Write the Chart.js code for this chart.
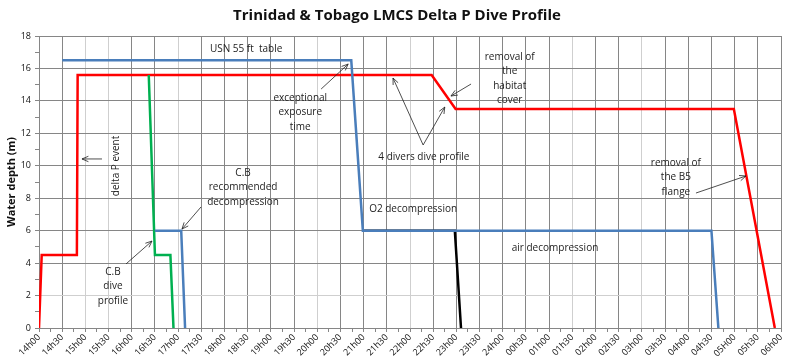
<!DOCTYPE html>
<html>
<head>
<meta charset="utf-8">
<script src="https://cdn.jsdelivr.net/npm/chart.js@4"></script>
<style>
  body { margin: 0; background: #fff; }
  #wrap { width: 800px; height: 364px; }
</style>
</head>
<body>
<div id="wrap"><canvas id="c"></canvas></div>
<script>
// time axis: minutes after 14h00, one label per 30 min
var timeLabels = ["14h00","14h30","15h00","15h30","16h00","16h30","17h00","17h30","18h00","18h30",
  "19h00","19h30","20h00","20h30","21h00","21h30","22h00","22h30","23h00","23h30","24h00",
  "00h30","01h00","01h30","02h00","02h30","03h00","03h30","04h00","04h30","05H00","05h30","06h00"];
var depthTicks = [0, 2, 4, 6, 8, 10, 12, 14, 16, 18];

// 4 divers dive profile (red)
var diversTime  = [0, 3.5, 49, 50, 508, 539, 899, 952];
var diversDepth = [0, 4.5, 4.5, 15.6, 15.6, 13.5, 13.5, 0];
// USN 55 ft table (blue)
var usnTime  = [30, 404, 419, 870, 879];
var usnDepth = [16.5, 16.5, 6, 6, 0];
// O2 decompression (black)
var o2Time  = [419, 538, 546];
var o2Depth = [6, 6, 0];
// C.B dive profile (green)
var cbTime  = [142, 150, 170, 174];
var cbDepth = [15.6, 4.5, 4.5, 0];
// C.B recommended decompression (blue)
var cbDecoTime  = [150, 184, 189];
var cbDecoDepth = [6, 6, 0];

function pts(t, d) {
  return t.map(function(v, i){ return {x: v, y: d[i]}; });
}

// text notes, anchored in data units (min, m)
var notes = [
  {lines: ["USN 55 ft  table"], x: 268, y: 17.2},
  {lines: ["exceptional", "exposure", "time"], x: 338, y: 14.18},
  {lines: ["removal of", "the", "habitat", "cover"], x: 609, y: 16.7},
  {lines: ["4 divers dive profile"], x: 498, y: 10.54},
  {lines: ["C.B", "recommended", "decompression"], x: 264, y: 9.55},
  {lines: ["C.B", "dive", "profile"], x: 95.7, y: 3.45},
  {lines: ["O2 decompression"], x: 484, y: 7.34},
  {lines: ["air decompression"], x: 667.6, y: 4.93},
  {lines: ["removal of", "the B5", "flange"], x: 824, y: 10.17},
  {lines: ["delta P event"], x: 99.6, y: 9.99, rotate: true}
];
var arrows = [
  [365, 14.73, 400, 16.27],
  [559, 15.04, 533, 14.3],
  [497, 11.28, 458, 15.41],
  [497, 11.28, 525, 13.62],
  [81.5, 10.42, 55.6, 10.42],
  [209.6, 7.46, 185, 6.1],
  [112.6, 3.95, 146.2, 5.36],
  [850, 8.32, 914.7, 9.37]
];

var lightX = [60, 90, 180, 360, 480, 690, 780];

var notesPlugin = {
  id: 'notes',
  afterDatasetsDraw: function(chart) {
    var ctx = chart.ctx, xs = chart.scales.x, ys = chart.scales.y;
    ctx.save();
    ctx.fillStyle = '#222';
    ctx.font = '10px "Open Sans", sans-serif';
    ctx.textAlign = 'center';
    ctx.textBaseline = 'middle';
    notes.forEach(function(n){
      var px = xs.getPixelForValue(n.x), py = ys.getPixelForValue(n.y);
      if (n.rotate) {
        ctx.save();
        ctx.translate(px, py);
        ctx.rotate(-Math.PI / 2);
        ctx.fillText(n.lines[0], 0, 0);
        ctx.restore();
        return;
      }
      n.lines.forEach(function(l, i){ ctx.fillText(l, px, py + i * 14.5); });
    });
    ctx.strokeStyle = '#222';
    ctx.lineWidth = 0.8;
    arrows.forEach(function(a){
      var x1 = xs.getPixelForValue(a[0]), y1 = ys.getPixelForValue(a[1]);
      var x2 = xs.getPixelForValue(a[2]), y2 = ys.getPixelForValue(a[3]);
      var ang = Math.atan2(y2 - y1, x2 - x1), h = 7;
      ctx.beginPath();
      ctx.moveTo(x1, y1); ctx.lineTo(x2, y2);
      ctx.moveTo(x2 - h * Math.cos(ang - 0.4), y2 - h * Math.sin(ang - 0.4));
      ctx.lineTo(x2, y2);
      ctx.lineTo(x2 - h * Math.cos(ang + 0.4), y2 - h * Math.sin(ang + 0.4));
      ctx.stroke();
    });
    // title
    ctx.fillStyle = '#111';
    ctx.font = 'bold 15px "Open Sans", sans-serif';
    ctx.fillText('Trinidad & Tobago LMCS Delta P Dive Profile', 397, 16);
    ctx.restore();
  }
};

function line(t, d, color) {
  return {data: pts(t, d), borderColor: color, borderWidth: 2.5, pointRadius: 0, tension: 0, fill: false};
}

new Chart(document.getElementById('c'), {
  type: 'line',
  data: {
    datasets: [
      line(usnTime, usnDepth, '#4a7ebb'),
      line(cbDecoTime, cbDecoDepth, '#4a7ebb'),
      line(o2Time, o2Depth, '#000000'),
      line(cbTime, cbDepth, '#00b050'),
      line(diversTime, diversDepth, '#ff0000')
    ]
  },
  options: {
    responsive: true,
    maintainAspectRatio: false,
    animation: false,
    layout: {padding: {top: 36, right: 19, left: 0, bottom: 0}},
    plugins: {legend: {display: false}, tooltip: {enabled: false}},
    scales: {
      x: {
        type: 'linear', min: 0, max: 960,
        afterFit: function(s){ s.height = 36; },
        border: {color: '#868686'},
        grid: {
          color: function(c){
            var v = c.tick.value;
            if (v % 30 !== 0) return 'rgba(0,0,0,0)';
            return lightX.indexOf(v) >= 0 ? '#cfcfcf' : '#868686';
          },
          tickColor: '#868686', tickLength: 4, lineWidth: 1
        },
        ticks: {
          stepSize: 15, autoSkip: false, maxRotation: 45, minRotation: 45, padding: 0,
          color: '#111', font: {size: 9, family: '"Open Sans", sans-serif'},
          callback: function(v){ return v % 30 === 0 ? timeLabels[v / 30] : ''; }
        }
      },
      y: {
        min: 0, max: 18,
        afterFit: function(s){ s.width = 39; },
        border: {color: '#868686'},
        grid: {
          color: function(c){
            var v = c.tick.value;
            if (v % 2 !== 0) return 'rgba(0,0,0,0)';
            return v === 2 ? '#cfcfcf' : '#868686';
          },
          tickColor: '#868686', tickLength: 4
        },
        ticks: {
          stepSize: 1, autoSkip: false, padding: 4, color: '#111',
          font: {size: 9, family: '"Open Sans", sans-serif'},
          callback: function(v){ return depthTicks.indexOf(v) >= 0 ? v : ''; }
        },
        title: {display: true, text: 'Water depth (m)', color: '#111', padding: {top: 5, bottom: 0},
          font: {size: 11, weight: 'bold', family: '"Open Sans", sans-serif'}}
      }
    }
  },
  plugins: [notesPlugin]
});
</script>
</body>
</html>
